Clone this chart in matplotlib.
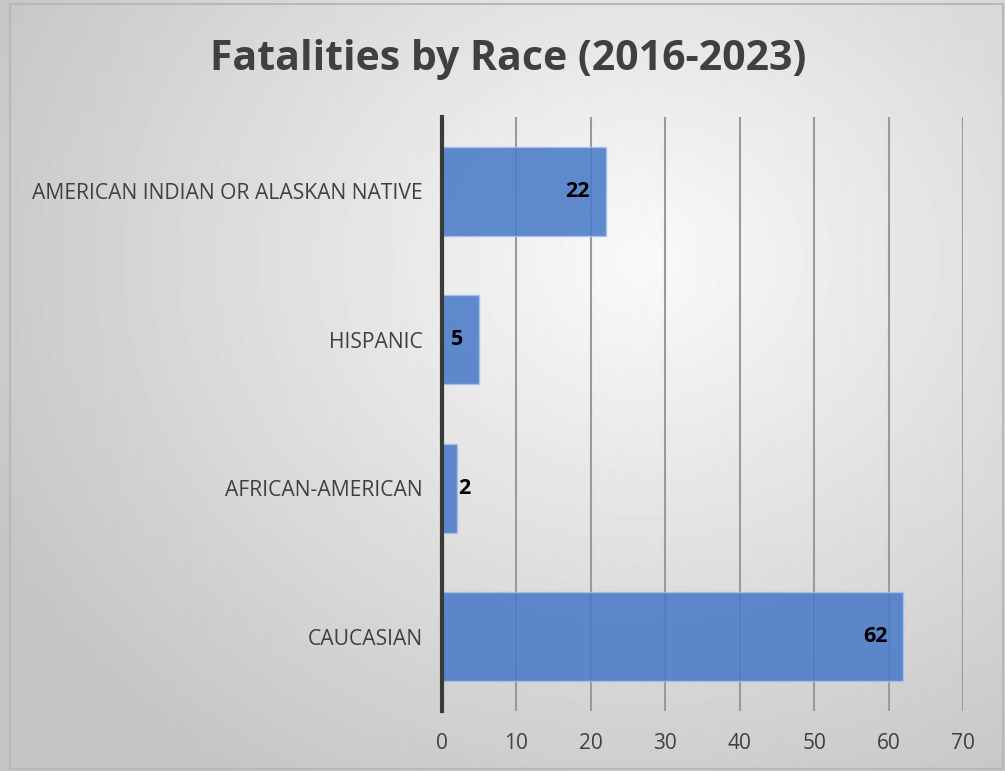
import numpy as np
import matplotlib.pyplot as plt

categories = ['CAUCASIAN', 'AFRICAN-AMERICAN', 'HISPANIC', 'AMERICAN INDIAN OR ALASKAN NATIVE']
values = [62, 2, 5, 22]
xticks = [0, 10, 20, 30, 40, 50, 60, 70]

plt.rcParams['font.family'] = ['Open Sans', 'DejaVu Sans']

fig = plt.figure(figsize=(10.05, 7.71), dpi=100)

# radial gradient background
bg = fig.add_axes([0, 0, 1, 1], zorder=-10)
yy, xx = np.mgrid[0:771, 0:1005]
r = np.sqrt(((xx - 640) / 700.0) ** 2 + ((yy - 260) / 600.0) ** 2)
shade = np.clip(0.98 - 0.2 * r, 0.77, 1.0)
bg.imshow(shade, cmap='gray', vmin=0, vmax=1, aspect='auto', extent=[0, 1, 0, 1], origin='upper')
bg.axis('off')
fig.patches.append(plt.Rectangle((10 / 1005, 2 / 771), 993 / 1005, 765 / 771, transform=fig.transFigure,
                                 fill=False, edgecolor='#b8b8b8', linewidth=1.5))

ax = fig.add_axes([442 / 1005, (771 - 711) / 771, (963 - 442) / 1005, (711 - 117) / 771])
ax.patch.set_alpha(0)
y = np.arange(len(categories))
bars = ax.barh(y, values, height=0.6, color='#4a7bc8', alpha=0.88, edgecolor='#a9c0e6', linewidth=1, zorder=3)
for b, v in zip(bars, values):
    cy = b.get_y() + b.get_height() / 2
    if v > 4:
        ax.text(v - 2.1, cy, str(v), ha='right', va='center',
                fontsize=15.5, fontweight='bold', color='black', zorder=4)
    else:
        ax.text(v + 0.2, cy, str(v), ha='left', va='center',
                fontsize=15.5, fontweight='bold', color='black', zorder=4)

ax.set_xlim(0, 70)
ax.set_ylim(-0.5, 3.5)
ax.set_xticks(xticks)
ax.set_yticks(y)
ax.set_yticklabels(categories, fontsize=15.2, color='#404040')
ax.tick_params(axis='y', length=0, pad=14)
ax.tick_params(axis='x', length=0, pad=16, labelsize=15, labelcolor='#404040')
ax.grid(axis='x', color='#9a9a9a', linewidth=1.5, zorder=0)
for s in ['top', 'right', 'bottom']:
    ax.spines[s].set_visible(False)
ax.spines['left'].set_color('#3a3a3a')
ax.spines['left'].set_linewidth(3)
ax.spines['left'].set_zorder(5)

fig.text(508 / 1005, 1 - 60 / 771, 'Fatalities by Race (2016-2023)', ha='center', va='center',
         fontsize=29.5, fontweight='bold', color='#404040')

plt.savefig('out.png', dpi=100)
